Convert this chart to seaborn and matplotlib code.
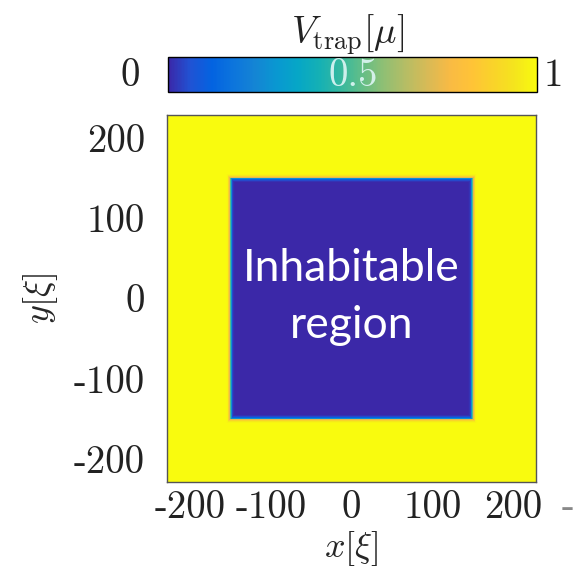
import numpy as np
import pandas as pd
import matplotlib
matplotlib.use("Agg")
import matplotlib.pyplot as plt
from matplotlib.colors import LinearSegmentedColormap
import seaborn as sns

# Box trap geometry, in units of the healing length xi
half_domain = 228        # plotted region spans [-half_domain, half_domain]
box_half = 150           # half side of the flat-bottomed region
wall_width = 2.0         # softness of the trap walls
v_max = 1.0              # wall height in units of mu

# Axis ticks
tick_values = [-200, -150, -100, -50, 0, 50, 100, 150, 200]
labelled_ticks = [-200, -100, 0, 100, 200]
tick_texts = ["-200", "-100", "0", "100", "200"]

# Colour bar annotations
cbar_low, cbar_mid, cbar_high = "0", "0.5", "1"

# Parula-like colour stops
parula_stops = [
    (0.2300, 0.1550, 0.6600), (0.1253, 0.3242, 0.8303), (0.0117, 0.3875, 0.8820),
    (0.0498, 0.4586, 0.8641), (0.0793, 0.5200, 0.8312), (0.0343, 0.5966, 0.8199),
    (0.0228, 0.6535, 0.7768), (0.0843, 0.6928, 0.7062), (0.2178, 0.7250, 0.6193),
    (0.3953, 0.7459, 0.5244), (0.5709, 0.7485, 0.4494), (0.7184, 0.7411, 0.3905),
    (0.8507, 0.7299, 0.3360), (0.9739, 0.7314, 0.2666), (0.9990, 0.7653, 0.2164),
    (0.9789, 0.8271, 0.1633), (0.9589, 0.8949, 0.1132), (0.9763, 0.9831, 0.0538),
]
parula = LinearSegmentedColormap.from_list("parula", parula_stops, N=256)

# Smooth-walled square box potential
coords = np.arange(-half_domain, half_domain + 1, 1.0)
X, Y = np.meshgrid(coords, coords[::-1])


def wall(r):
    return 0.5 * (np.tanh((np.abs(r) - box_half) / wall_width) + 1.0)


V = v_max * np.maximum(wall(X), wall(Y))
field = pd.DataFrame(V, index=coords[::-1], columns=coords)

sns.set_theme(style="white")
plt.rcParams["mathtext.fontset"] = "cm"
plt.rcParams["axes.unicode_minus"] = False

W, H = 587, 572
fig = plt.figure(figsize=(W / 100, H / 100), dpi=100)
ax = fig.add_axes([167 / W, 1 - 482 / H, (536 - 167) / W, (482 - 115) / H])
cax = fig.add_axes([168 / W, 1 - 92 / H, (537 - 168) / W, (92 - 57) / H])

sns.heatmap(field, ax=ax, cmap=parula, vmin=0, vmax=v_max,
            cbar=True, cbar_ax=cax, cbar_kws={"orientation": "horizontal"},
            xticklabels=False, yticklabels=False, rasterized=True)


def xpos(v):
    return v + half_domain + 0.5


def ypos(v):
    return half_domain - v + 0.5


ax.set_xticks([xpos(v) for v in tick_values])
ax.set_yticks([ypos(v) for v in tick_values])
labels = [tick_texts[labelled_ticks.index(v)] if v in labelled_ticks else "" for v in tick_values]
ax.set_xticklabels(labels, fontfamily="cmr10", fontsize=28, color="#222222")
ax.set_yticklabels(labels, fontfamily="cmr10", fontsize=28, color="#222222")
ax.tick_params(axis="both", which="both", direction="in", length=5, width=0.8,
               color="#9a9a9a", top=True, right=True, bottom=True, left=True)
ax.tick_params(axis="x", pad=6)
ax.tick_params(axis="y", pad=16)
for s in ax.spines.values():
    s.set_visible(True)
    s.set_color("#555555")
    s.set_linewidth(1.0)

ax.set_xlabel(r"$x[\xi]$", fontsize=26, labelpad=2)
ax.set_ylabel(r"$y[\xi]$", fontsize=26, labelpad=10)

# Colour bar styling
cb = ax.collections[0].colorbar
cb.set_ticks([])
cb.outline.set_visible(True)
cb.outline.set_edgecolor("black")
cb.outline.set_linewidth(1.0)
fig.text(130 / W, 1 - 76 / H, cbar_low, fontfamily="cmr10", fontsize=28,
         ha="center", va="center", color="#222222")
fig.text(553 / W, 1 - 76 / H, cbar_high, fontfamily="cmr10", fontsize=28,
         ha="center", va="center", color="#222222")
fig.text(353 / W, 1 - 76 / H, cbar_mid, fontfamily="cmr10", fontsize=28,
         ha="center", va="center", color="#dff6f6", alpha=0.9)
fig.text(348 / W, 1 - 35 / H, r"$V_{\mathrm{trap}}[\mu]$", fontsize=27,
         ha="center", va="center", color="#222222")
fig.text(568 / W, 1 - 507 / H, "-", fontfamily="cmr10", fontsize=28,
         ha="center", va="center", color="#888888")

# Annotation inside the box
ax.text(xpos(0), ypos(2), "Inhabitable\nregion", color="white", fontfamily="Lato",
        fontsize=32, ha="center", va="center", linespacing=1.5)

fig.savefig("out.png", dpi=100)
